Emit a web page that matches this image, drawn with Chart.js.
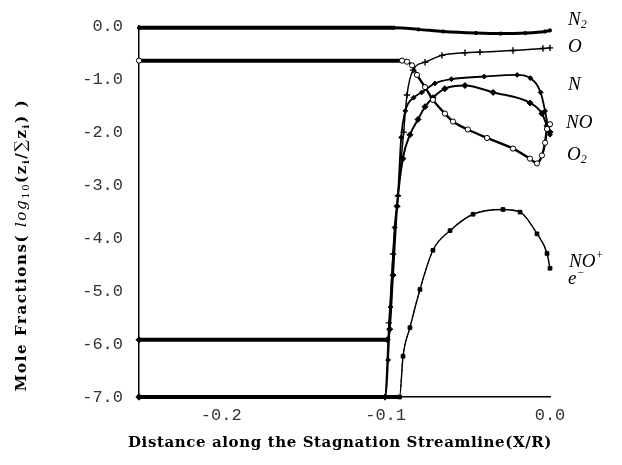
<!DOCTYPE html>
<html>
<head>
<meta charset="utf-8">
<script src="https://cdn.jsdelivr.net/npm/chart.js@4.4.1/dist/chart.umd.min.js"></script>
<style>
body{margin:0;background:#fff;}
#wrap{width:622px;height:465px;}
</style>
</head>
<body>
<div id="wrap"><canvas id="c" width="622" height="465"></canvas></div>
<script>
/* ================= DATA ================= */
const xTicks=[-0.2,-0.1,0.0];
const yTicks=[0,-1,-2,-3,-4,-5,-6,-7];

const n2X=[-0.25,-0.095,-0.08,-0.065,-0.045,-0.03,-0.015,-0.003,0];
const n2Y=[-0.03,-0.03,-0.06,-0.1,-0.13,-0.14,-0.13,-0.1,-0.08];

const o2X=[-0.25,-0.09,-0.087,-0.0839,-0.0809,-0.076,-0.0712,-0.0639,-0.059,-0.05,-0.0383,-0.0225,-0.0122,-0.0079,-0.0049,-0.003,-0.0018,0];
const o2Y=[-0.65,-0.65,-0.67,-0.74,-0.92,-1.15,-1.39,-1.65,-1.8,-1.95,-2.11,-2.31,-2.5,-2.59,-2.44,-2.2,-1.94,-1.85];

const oX=[-0.25,-0.1005,-0.098,-0.0955,-0.0925,-0.089,-0.087,-0.0833,-0.076,-0.0657,-0.0517,-0.0426,-0.0225,-0.0043,0];
const oY=[-7,-7,-5.6,-4.3,-3.2,-2.0,-1.3,-0.83,-0.68,-0.55,-0.5,-0.49,-0.46,-0.42,-0.41];

const nX=[-0.25,-0.1,-0.0985,-0.097,-0.0945,-0.0925,-0.0905,-0.088,-0.083,-0.078,-0.07,-0.06,-0.04,-0.02,-0.012,-0.0057,-0.003,-0.0012,0];
const nY=[-7,-7,-6.3,-5.3,-3.8,-3.2,-2.1,-1.6,-1.35,-1.25,-1.08,-1.0,-0.95,-0.92,-0.98,-1.25,-1.6,-1.9,-2.05];

const noX=[-0.25,-0.099,-0.0975,-0.0955,-0.093,-0.0895,-0.0852,-0.0803,-0.076,-0.0712,-0.064,-0.0517,-0.0346,-0.0121,-0.0049,-0.0018,0];
const noY=[-5.92,-5.92,-5.72,-4.7,-3.4,-2.5,-2.05,-1.76,-1.52,-1.35,-1.18,-1.12,-1.25,-1.45,-1.65,-1.88,-2.0];

const noPlusX=[-0.25,-0.0915,-0.0894,-0.0852,-0.0791,-0.0712,-0.0608,-0.0468,-0.0286,-0.0182,-0.0079,-0.0018,0];
const noPlusY=[-7,-7,-6.23,-5.69,-4.97,-4.23,-3.86,-3.55,-3.46,-3.51,-3.92,-4.29,-4.57];

const elecX=[-0.25,-0.0915,-0.0894,-0.0852,-0.0791,-0.0712,-0.0608,-0.0468,-0.0286,-0.0182,-0.0079,-0.0018,0];
const elecY=[-7,-7,-6.23,-5.69,-4.97,-4.23,-3.86,-3.55,-3.46,-3.51,-3.92,-4.29,-4.57];

function pts(xs,ys){ return xs.map((x,i)=>({x:x,y:ys[i]})); }

/* ================= TEXT ================= */
const bold15='bold 15px "DejaVu Serif"';
const sub10='bold 10px "DejaVu Serif"';

function drawRuns(ctx,runs,x,y,align,sp){
ctx.letterSpacing=(sp||0)+"px";
let w=0;
runs.forEach(r=>{ctx.font=r.f;w+=ctx.measureText(r.t).width;});
let cx=align==="center"?x-w/2:x;
runs.forEach(r=>{
ctx.font=r.f;
ctx.fillText(r.t,cx,y+(r.dy||0));
cx+=ctx.measureText(r.t).width;
});
ctx.letterSpacing="0px";
}

const textPlugin={
id:"texts",
afterDraw(chart){
const ctx=chart.ctx;
ctx.save();
ctx.fillStyle="#000";
ctx.textBaseline="middle";
ctx.textAlign="left";

/* x title */
drawRuns(ctx,[{t:"Distance along the Stagnation Streamline(X/R)",f:bold15}],340,443,"center",0.6);

/* y title */
ctx.save();
ctx.translate(22,245);
ctx.rotate(-Math.PI/2);
drawRuns(ctx,[
{t:"Mole Fractions( ",f:bold15},
{t:"log",f:'italic 15px "DejaVu Serif"'},
{t:"10",f:'10px "DejaVu Serif"',dy:4},
{t:"(z",f:bold15},
{t:"i",f:sub10,dy:4},
{t:"/",f:bold15},
{t:"∑",f:'16px "DejaVu Serif"'},
{t:"z",f:bold15},
{t:"i",f:sub10,dy:4},
{t:") )",f:bold15}
],0,0,"center",1.6);
ctx.restore();

/* species labels */
const it='italic 19px "Liberation Serif"';
const itSub='italic 12px "Liberation Serif"';
drawRuns(ctx,[{t:"N",f:it},{t:"2",f:itSub,dy:5}],568,20,"left");
drawRuns(ctx,[{t:"O",f:it}],568,47,"left");
drawRuns(ctx,[{t:"N",f:it}],568,85,"left");
drawRuns(ctx,[{t:"NO",f:it}],566,123,"left");
drawRuns(ctx,[{t:"O",f:it},{t:"2",f:itSub,dy:5}],567,155,"left");
drawRuns(ctx,[{t:"NO",f:it},{t:"+",f:itSub,dy:-6}],569,262,"left");
drawRuns(ctx,[{t:"e",f:it},{t:"−",f:itSub,dy:-6}],568,279,"left");
ctx.restore();
}
};

/* ================= CHART ================= */
// flat stretches look heavy in the original (dense markers), so thicken them
const flatWidth=(c,w)=>c.p0.parsed.y===c.p1.parsed.y ? 4 : w;

function ds(label,xs,ys,o){
const w=o.borderWidth||1.6;
return Object.assign({
label:label,
data:pts(xs,ys),
borderColor:"#000",
backgroundColor:"#000",
pointBorderColor:"#000",
pointBackgroundColor:"#000",
borderWidth:1.6,
pointRadius:2.2,
pointBorderWidth:1,
cubicInterpolationMode:"monotone",
segment:{borderWidth:c=>flatWidth(c,w)},
clip:false
},o);
}

const tickFont={family:'"Liberation Mono"',size:17};

new Chart(document.getElementById("c"),{
type:"line",
data:{datasets:[
ds("N2",n2X,n2Y,{borderWidth:3,pointRadius:1.6,pointStyle:"circle"}),
ds("O2",o2X,o2Y,{borderWidth:2.4,pointRadius:2.6,pointStyle:"circle",pointBackgroundColor:"#fff"}),
ds("O",oX,oY,{borderWidth:1.4,pointRadius:3.2,pointStyle:"cross",pointBorderWidth:1.4}),
ds("N",nX,nY,{borderWidth:1.8,pointRadius:2.4,pointStyle:"rectRot"}),
ds("NO",noX,noY,{borderWidth:2,pointRadius:3,pointStyle:"rectRot"}),
ds("NO+",noPlusX,noPlusY,{borderWidth:1.4,pointRadius:2.6,pointStyle:"rect"}),
ds("e-",elecX,elecY,{borderWidth:1,pointRadius:1.8,pointStyle:"triangle",borderDash:[3,2]})
]},
options:{
responsive:false,
animation:false,
events:[],
layout:{padding:{left:0,right:72,top:18,bottom:0}},
plugins:{legend:{display:false},tooltip:{enabled:false}},
scales:{
x:{
type:"linear",min:-0.25,max:0,
afterBuildTicks:s=>{s.ticks=xTicks.map(v=>({value:v}));},
afterFit:s=>{s.height=68;},
grid:{display:false,drawTicks:false},
border:{display:true,color:"#000",width:1.5},
ticks:{color:"#333",font:tickFont,padding:8,maxRotation:0,callback:v=>Number(v).toFixed(1)}
},
y:{
type:"linear",min:-7,max:0,
afterBuildTicks:s=>{s.ticks=yTicks.map(v=>({value:v}));},
afterFit:s=>{s.width=139;},
grid:{display:false,drawTicks:false},
border:{display:true,color:"#000",width:1.5},
ticks:{color:"#333",font:tickFont,padding:16,callback:v=>Number(v).toFixed(1)}
}
}
},
plugins:[textPlugin]
});
</script>
</body>
</html>
